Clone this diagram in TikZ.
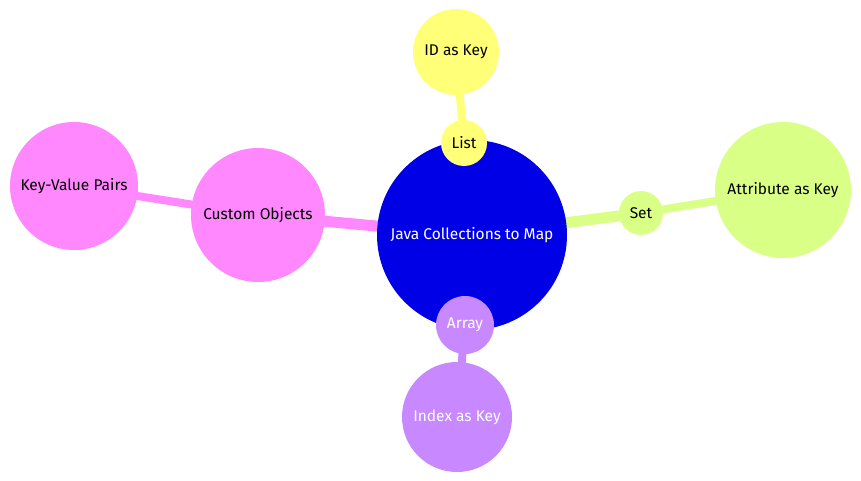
\documentclass[tikz,border=0pt]{standalone}
\usepackage{fontspec}
\setmainfont{Fira Sans}
\usetikzlibrary{backgrounds}
\definecolor{rootblue}{HTML}{0000E6}
\definecolor{listyellow}{HTML}{FFFF78}
\definecolor{setgreen}{HTML}{DAFF87}
\definecolor{arraypurple}{HTML}{C888FF}
\definecolor{objpink}{HTML}{FF88FF}

\begin{document}
\begin{tikzpicture}[x=1pt,y=-1pt,every node/.style={font=\fontsize{15.5}{18}\selectfont},
  bubble/.style={circle,inner sep=0pt,minimum size=#1},
  branch/.style={line width=11pt},
  twig/.style={line width=8pt}]
  \useasboundingbox (0,0) rectangle (861,481);
  \node[bubble=190pt,fill=rootblue,text=white] (root) at (472,235) {Java Collections to Map};
  \node[bubble=46pt,fill=listyellow] (list) at (464,143) {List};
  \node[bubble=86pt,fill=listyellow] (idkey) at (456,52) {ID as Key};
  \node[bubble=44pt,fill=setgreen] (set) at (641,213) {Set};
  \node[bubble=136pt,fill=setgreen] (attrkey) at (783,190) {Attribute as Key};
  \node[bubble=58pt,fill=arraypurple,text=white] (array) at (465,325) {Array};
  \node[bubble=110pt,fill=arraypurple,text=white] (indexkey) at (457,417) {Index as Key};
  \node[bubble=134pt,fill=objpink] (custom) at (258,215) {Custom Objects};
  \node[bubble=128pt,fill=objpink] (kvpairs) at (74,186) {Key-Value Pairs};
  % connectors behind the bubbles
  \begin{scope}[on background layer]
    \draw[branch,listyellow] (root.center) -- (list.center);
    \draw[twig,listyellow] (list.center) -- (idkey.center);
    \draw[branch,setgreen] (root.center) -- (set.center);
    \draw[twig,setgreen] (set.center) -- (attrkey.center);
    \draw[branch,arraypurple] (root.center) -- (array.center);
    \draw[twig,arraypurple] (array.center) -- (indexkey.center);
    \draw[branch,objpink] (root.center) -- (custom.center);
    \draw[twig,objpink] (custom.center) -- (kvpairs.center);
  \end{scope}
\end{tikzpicture}
\end{document}
